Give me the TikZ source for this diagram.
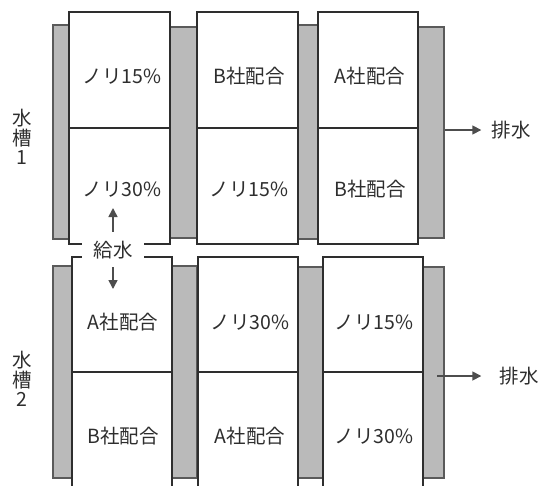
\documentclass[tikz,border=0pt]{standalone}
\usepackage{fontspec}
\setmainfont{Noto Sans CJK JP}
\usetikzlibrary{arrows.meta}
\definecolor{barfill}{HTML}{BABABA}
\definecolor{barline}{HTML}{5A5A5A}
\definecolor{ink}{HTML}{2E2E2E}
\tikzset{
 bar/.style={fill=barfill, draw=barline, line width=2.6pt},
 cell/.style={draw=ink, line width=1.2pt, fill=white},
 lbl/.style={font=\fontsize{19.5}{19.5}\selectfont, text=ink, inner sep=0pt},
 side/.style={font=\fontsize{19.5}{19.5}\selectfont, text=ink, align=center, inner sep=0pt},
 flow/.style={draw=ink!85, line width=1.6pt, -{Triangle[length=9pt,width=9pt]}}
}
\begin{document}
\begin{tikzpicture}[x=1pt,y=-1pt]
\useasboundingbox (0,0) rectangle (546,485);
\clip (0,0) rectangle (546,485);
% ---------- tank 1 ----------
\draw[bar] (53,25) rectangle (69,239);
\draw[bar] (170,27) rectangle (197,238);
\draw[bar] (298,25) rectangle (318,239);
\draw[bar] (418,27) rectangle (444,238);
\draw[cell] (69,12) rectangle (170,244);
\draw[cell] (197,12) rectangle (298,244);
\draw[cell] (318,12) rectangle (418,244);
\draw[ink, line width=1.2pt] (69,128) -- (170,128) (197,128) -- (298,128) (318,128) -- (418,128);
\node[lbl] (a11) at (122,76) {ノリ15\%};
\node[lbl] (a12) at (249,76) {B社配合};
\node[lbl] (a13) at (370,76) {A社配合};
\node[lbl] (a21) at (122,189) {ノリ30\%};
\node[lbl] (a22) at (249,189) {ノリ15\%};
\node[lbl] (a23) at (370,189) {B社配合};
\node[side] (t1) at (22,137) {水\\槽\\1};
% ---------- tank 2 ----------
\draw[bar] (53,266) rectangle (72,478);
\draw[bar] (172,266) rectangle (197,478);
\draw[bar] (298,267) rectangle (323,478);
\draw[bar] (423,267) rectangle (444,478);
\draw[cell] (72,257) rectangle (172,495);
\draw[cell] (198,257) rectangle (298,495);
\draw[cell] (323,257) rectangle (423,495);
\draw[ink, line width=1.2pt] (72,372) -- (172,372) (198,372) -- (298,372) (323,372) -- (423,372);
\node[lbl] (b11) at (123,322) {A社配合};
\node[lbl] (b12) at (250,322) {ノリ30\%};
\node[lbl] (b13) at (374,322) {ノリ15\%};
\node[lbl] (b21) at (123,436) {B社配合};
\node[lbl] (b22) at (250,436) {A社配合};
\node[lbl] (b23) at (374,436) {ノリ30\%};
\node[side] (t2) at (22,379) {水\\槽\\2};
% ---------- supply ----------
\node[lbl, fill=white, minimum width=62pt, minimum height=18pt] (sup) at (113,250) {給水};
\coordinate (up) at (113,208);
\coordinate (dn) at (113,289);
\draw[flow] ([yshift=9pt]sup.north) -- (up);
\draw[flow] ([yshift=-8pt]sup.south) -- (dn);
% ---------- drain ----------
\node[lbl] (d1) at (511,130) {排水};
\node[lbl] (d2) at (519,376) {排水};
\coordinate (o1) at (445,130);
\coordinate (o2) at (437,376);
\draw[flow] (o1) -- ([xshift=-10pt]d1.west);
\draw[flow] (o2) -- ([xshift=-18pt]d2.west);
\end{tikzpicture}
\end{document}
